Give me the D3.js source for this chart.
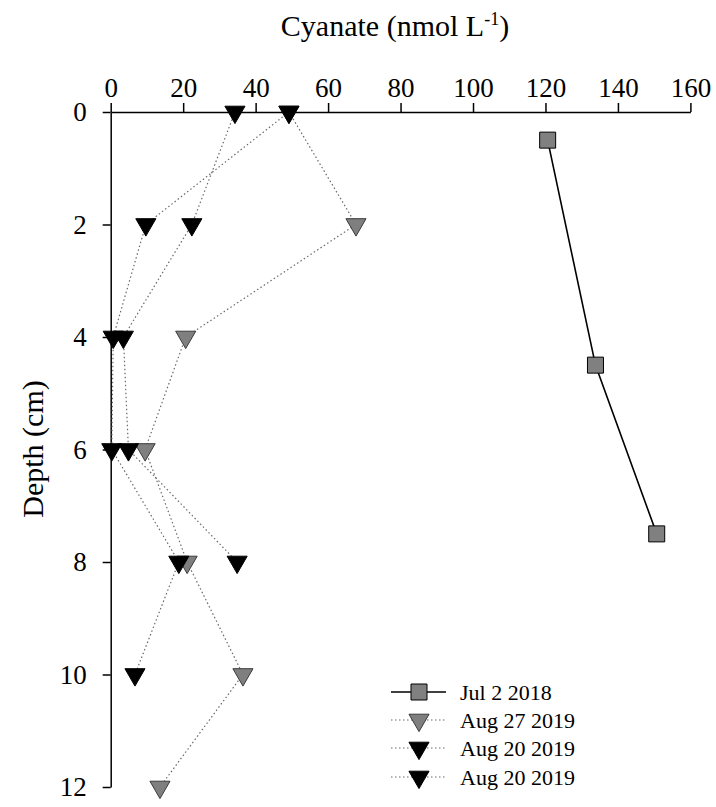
<!DOCTYPE html>
<html lang="en">
<head>
    <meta charset="UTF-8">
    <script src="https://d3js.org/d3.v7.min.js"></script>
    <title>Cyanate depth profile</title>
    <style>
        body {
            margin: 0;
            background: white;
        }

        text {
            font-family: "Liberation Serif", "Times New Roman", serif;
            fill: black;
        }

        .axis path,
        .axis line {
            stroke: black;
            stroke-width: 1.5px;
        }
    </style>
</head>
<body>
    <div id="chart"></div>
    <script>
        // ---- data ----
        const xTicks = [0, 20, 40, 60, 80, 100, 120, 140, 160];
        const yTicks = [0, 2, 4, 6, 8, 10, 12];

        const jul2018Depth = [0.5, 4.5, 7.5];
        const jul2018Value = [120.6, 133.8, 150.7];

        const aug27Depth = [0, 2, 4, 6, 8, 10, 12];
        const aug27Value = [49.2, 67.7, 20.7, 9.5, 21.1, 36.5, 13.6];

        const aug20aDepth = [0, 2, 4, 6, 8, 10];
        const aug20aValue = [49.2, 9.7, 0.7, 0.3, 18.8, 6.7];

        const aug20bDepth = [0, 2, 4, 6, 8];
        const aug20bValue = [34.3, 22.4, 3.5, 4.9, 34.9];

        const legendLabels = ["Jul 2 2018", "Aug 27 2019", "Aug 20 2019", "Aug 20 2019"];

        const width = 716;
        const height = 807;
        const serif = '"Liberation Serif", "Times New Roman", serif';

        const svg = d3.select("#chart").append("svg")
            .attr("width", width)
            .attr("height", height);

        svg.append("rect")
            .attr("width", width)
            .attr("height", height)
            .attr("fill", "white");

        const x = d3.scaleLinear().domain([0, 160]).range([110.7, 690.4]);
        const y = d3.scaleLinear().domain([0, 12]).range([112, 787]);

        // axes
        svg.append("g")
            .attr("class", "axis")
            .attr("transform", `translate(0,${y(0)})`)
            .call(d3.axisTop(x).tickValues(xTicks).tickSize(9).tickSizeOuter(0).tickPadding(6))
            .attr("font-family", serif)
            .attr("font-size", 27);

        svg.append("g")
            .attr("class", "axis")
            .attr("transform", `translate(${x(0)},0)`)
            .call(d3.axisLeft(y).tickValues(yTicks).tickSize(8).tickSizeOuter(0).tickPadding(16))
            .attr("font-family", serif)
            .attr("font-size", 27);

        // axis titles
        const title = svg.append("text")
            .attr("x", 395)
            .attr("y", 36)
            .attr("text-anchor", "middle")
            .style("font-size", "30px");
        title.append("tspan").text("Cyanate (nmol L");
        title.append("tspan").attr("dy", -11).style("font-size", "18px").text("-1");
        title.append("tspan").attr("dy", 11).text(")");

        svg.append("text")
            .attr("transform", "translate(43,449) rotate(-90)")
            .attr("text-anchor", "middle")
            .style("font-size", "30px")
            .text("Depth (cm)");

        // series
        const makePoints = (depths, values) => depths.map((d, i) => ({ depth: d, value: values[i] }));

        const series = [
            { name: legendLabels[1], pts: makePoints(aug27Depth, aug27Value), fill: "#7f7f7f", stroke: "#3a3a3a", dotted: true, shape: "tri" },
            { name: legendLabels[2], pts: makePoints(aug20aDepth, aug20aValue), fill: "black", stroke: "black", dotted: true, shape: "tri" },
            { name: legendLabels[3], pts: makePoints(aug20bDepth, aug20bValue), fill: "black", stroke: "black", dotted: true, shape: "tri" },
            { name: legendLabels[0], pts: makePoints(jul2018Depth, jul2018Value), fill: "#808080", stroke: "black", dotted: false, shape: "sq" }
        ];

        const line = d3.line()
            .x(d => x(d.value))
            .y(d => y(d.depth));

        const triPath = d3.symbol(d3.symbolTriangle, 175)();
        const sqPath = d3.symbol(d3.symbolSquare, 256)();

        const styleLine = (sel, s) => {
            if (s.dotted) {
                sel.attr("stroke", "#6a6a6a")
                    .attr("stroke-width", 1.2)
                    .attr("stroke-dasharray", "1.5,2.5");
            } else {
                sel.attr("stroke", "black")
                    .attr("stroke-width", 1.6);
            }
        };

        const drawMarker = (g, s, cx, cy) => {
            g.append("path")
                .attr("d", s.shape === "tri" ? triPath : sqPath)
                .attr("transform", s.shape === "tri"
                    ? `translate(${cx},${cy}) rotate(180)`
                    : `translate(${cx},${cy})`)
                .attr("fill", s.fill)
                .attr("stroke", s.stroke)
                .attr("stroke-width", 1);
        };

        // lines under markers
        series.forEach(s => {
            svg.append("path")
                .datum(s.pts)
                .attr("d", line)
                .attr("fill", "none")
                .call(styleLine, s);
        });

        series.forEach(s => {
            const g = svg.append("g");
            s.pts.forEach(p => drawMarker(g, s, x(p.value), y(p.depth)));
        });

        // legend
        const legendOrder = [series[3], series[0], series[1], series[2]];
        const legendRows = [692, 720, 748, 777];

        legendOrder.forEach((s, i) => {
            const ly = legendRows[i];
            const g = svg.append("g");
            g.append("line")
                .attr("x1", 391).attr("x2", 446)
                .attr("y1", ly).attr("y2", ly)
                .call(styleLine, s);
            drawMarker(g, s, 419, ly);
            g.append("text")
                .attr("x", 460)
                .attr("y", ly)
                .attr("dy", "0.35em")
                .style("font-size", "22px")
                .text(s.name);
        });
    </script>
</body>
</html>
